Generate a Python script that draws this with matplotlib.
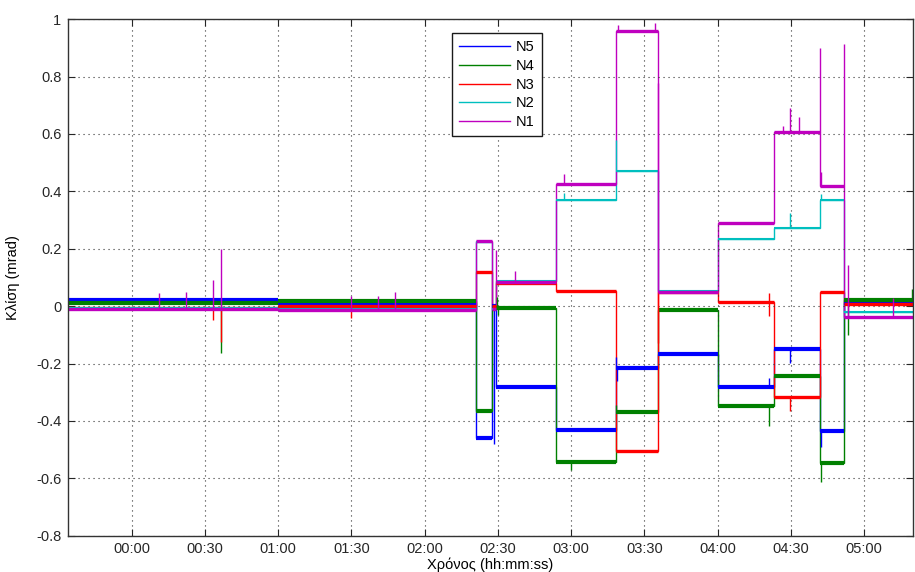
import numpy as np
import matplotlib
matplotlib.use("Agg")
import matplotlib.pyplot as plt
from matplotlib.lines import Line2D

plt.rcParams['font.family'] = ['Liberation Sans', 'DejaVu Sans']

# time in minutes from 00:00, segment edges of the step levels
edges = [-26.2, 60.0, 141.0, 147.5, 149.2, 173.8, 198.3, 215.5, 240.0, 263.1, 282.0, 291.8, 320.1]

# level of each series in each segment (mrad)
n5 = [0.022, 0.012, -0.458, 0.000, -0.281, -0.432, -0.215, -0.168, -0.283, -0.150, -0.436, 0.012]
n4 = [0.012, 0.018, -0.365, -0.010, -0.008, -0.543, -0.370, -0.012, -0.347, -0.243, -0.545, 0.023]
n3 = [-0.005, 0.000, 0.120, 0.000, 0.080, 0.053, -0.504, 0.050, 0.015, -0.316, 0.050, 0.006]
n2 = [-0.005, -0.010, 0.222, -0.010, 0.088, 0.369, 0.471, 0.052, 0.234, 0.271, 0.369, -0.022]
n1 = [-0.010, -0.015, 0.228, -0.010, 0.085, 0.427, 0.958, 0.050, 0.290, 0.607, 0.420, -0.037]

# isolated spikes: (time, peak value)
n5_spk = [(148.5, -0.48), (198.5, -0.178), (198.6, -0.26), (261.1, -0.25), (269.6, -0.197), (282.4, -0.49)]
n4_spk = [(36.6, -0.165), (149.5, 0.032), (150.0, -0.03), (180.0, -0.571), (198.5, -0.345),
          (261.1, -0.417), (282.5, -0.612), (293.3, -0.10), (319.5, 0.059)]
n3_spk = [(33.2, -0.05), (36.6, -0.124), (89.8, -0.04), (261.0, 0.044), (261.2, -0.035),
          (269.6, -0.366), (215.7, -0.13)]
n2_spk = [(177.1, 0.395), (198.4, 0.578), (269.6, 0.325), (282.2, 0.39)]
n1_spk = [(11.2, 0.046), (22.1, 0.05), (33.2, 0.09), (36.6, 0.199), (89.8, 0.035), (100.8, 0.035),
          (107.9, 0.05), (149.3, 0.195), (157.0, 0.123), (177.1, 0.46), (199.1, 0.98), (214.4, 0.985),
          (215.6, 0.776), (266.9, 0.627), (269.6, 0.69), (273.3, 0.66), (282.0, 0.898), (282.2, 0.468),
          (291.8, 0.912), (293.3, 0.143), (312.0, 0.03)]

xtick_pos = [0, 30, 60, 90, 120, 150, 180, 210, 240, 270, 300]
xtick_lab = ['00:00', '00:30', '01:00', '01:30', '02:00', '02:30', '03:00', '03:30', '04:00', '04:30', '05:00']
ytick_pos = [-0.8, -0.6, -0.4, -0.2, 0, 0.2, 0.4, 0.6, 0.8, 1]
ytick_lab = ['-0.8', '-0.6', '-0.4', '-0.2', '0', '0.2', '0.4', '0.6', '0.8', '1']

series = [
    ('N5', n5, n5_spk, (0, 0, 1), 3.0),
    ('N4', n4, n4_spk, (0, 0.5, 0), 3.0),
    ('N3', n3, n3_spk, (1, 0, 0), 2.4),
    ('N2', n2, n2_spk, (0, 0.75, 0.75), 1.5),
    ('N1', n1, n1_spk, (0.75, 0, 0.75), 2.4),
]

fig = plt.figure(figsize=(9.15, 5.72), dpi=100)
ax = fig.add_axes([0.074, 0.0635, 0.924, 0.903])

handles = []
for name, lev, spk, col, lw in series:
    # thin steps, thick (noisy) plateaus
    ax.stairs(lev, edges, color=col, lw=1.0, baseline=None)
    ax.hlines(lev, edges[:-1], edges[1:], color=col, lw=lw)
    for t, peak in spk:
        i = np.searchsorted(edges, t) - 1
        ax.vlines(t, lev[i], peak, color=col, lw=1.0)
    handles.append(Line2D([], [], color=col, lw=1.0))

ax.set_xlim(edges[0], edges[-1])
ax.set_ylim(-0.8, 1)
ax.set_xticks(xtick_pos)
ax.set_xticklabels(xtick_lab)
ax.set_yticks(ytick_pos)
ax.set_yticklabels(ytick_lab)
ax.tick_params(direction='in', length=5, width=0.8, top=True, right=True,
               labelsize=10.5, pad=4.5, colors='0.15')
ax.grid(True, color='0.2', linestyle=(0, (1, 3.5)), lw=0.8)
for s in ax.spines.values():
    s.set_color('0.2')
    s.set_linewidth(1.0)

ax.set_xlabel('Χρόνος (hh:mm:ss)', fontsize=10.5, labelpad=1)
ax.set_ylabel('Κλίση (mrad)', fontsize=10.5, labelpad=12)

leg = ax.legend(handles, ['N5', 'N4', 'N3', 'N2', 'N1'], loc='upper left',
                bbox_to_anchor=(0.454, 0.973), fontsize=10.5, handlelength=3.5,
                handletextpad=0.4, labelspacing=0.32, borderaxespad=0,
                borderpad=0.5, fancybox=False, framealpha=1)
leg.get_frame().set_edgecolor('0.1')
leg.get_frame().set_linewidth(1.0)

fig.savefig('out.png', dpi=100)
